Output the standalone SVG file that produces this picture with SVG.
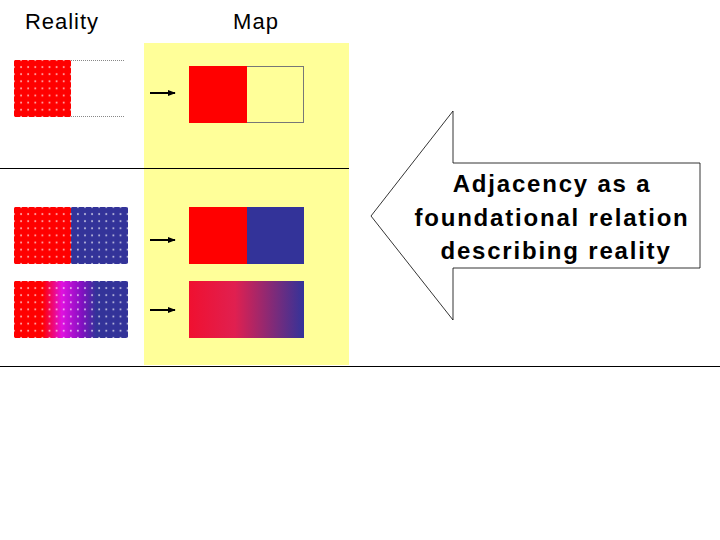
<svg xmlns="http://www.w3.org/2000/svg" width="720" height="540" viewBox="0 0 720 540">
<style>
.t{font-family:"Liberation Sans",Arial,sans-serif;fill:#000}
.ln{stroke:#000;stroke-width:1}
.arr{stroke:#000;stroke-width:2;marker-end:url(#ah)}
</style>
<defs>
<marker id="ah" viewBox="0 0 10 10" refX="9" refY="5" markerWidth="4" markerHeight="4" orient="auto"><path d="M0,1 L10,5 L0,9 z" fill="#000"/></marker>
<pattern id="dots" x="14" y="60" width="7.1" height="7.1" patternUnits="userSpaceOnUse"><rect width="7.1" height="7.1" fill="#000"/><circle cx="3.55" cy="3.55" r="4.3" fill="#fff"/></pattern>
<pattern id="dots2" x="14" y="207" width="7.1" height="7.1" patternUnits="userSpaceOnUse"><rect width="7.1" height="7.1" fill="#000"/><circle cx="3.55" cy="3.55" r="4.3" fill="#fff"/></pattern>
<pattern id="dots3" x="14" y="281" width="7.1" height="7.1" patternUnits="userSpaceOnUse"><rect width="7.1" height="7.1" fill="#000"/><circle cx="3.55" cy="3.55" r="4.3" fill="#fff"/></pattern>
<mask id="dm" maskUnits="userSpaceOnUse" x="0" y="0" width="720" height="540"><rect x="14" y="60" width="57" height="57" fill="url(#dots)"/><rect x="14" y="207" width="114" height="57" fill="url(#dots2)"/><rect x="14" y="281" width="114" height="57" fill="url(#dots3)"/></mask>
<linearGradient id="rg" x1="0" x2="1"><stop offset="0" stop-color="#f00"/><stop offset="0.25" stop-color="#f00"/><stop offset="0.42" stop-color="#e010e0"/><stop offset="0.6" stop-color="#8010c0"/><stop offset="0.72" stop-color="#333399"/><stop offset="1" stop-color="#333399"/></linearGradient>
<linearGradient id="mg" x1="0" x2="1"><stop offset="0" stop-color="#f01030"/><stop offset="0.4" stop-color="#e02050"/><stop offset="1" stop-color="#333399"/></linearGradient>
</defs>
<rect width="720" height="540" fill="#fff"/>
<rect x="144" y="43" width="205" height="322" fill="#ffff99"/>
<g id="headers">
<text class="t" x="62" y="29" font-size="22" letter-spacing="1" text-anchor="middle">Reality</text>
<text class="t" x="256" y="29" font-size="22" letter-spacing="1" text-anchor="middle">Map</text>
</g>
<g id="reality">
<g mask="url(#dm)">
<rect x="14" y="60" width="57" height="57" fill="#f00"/>
<rect x="14" y="207" width="57" height="57" fill="#f00"/>
<rect x="71" y="207" width="57" height="57" fill="#333399"/>
<rect x="14" y="281" width="114" height="57" fill="url(#rg)"/>
</g>
<line x1="71" y1="60.5" x2="124" y2="60.5" stroke="#888" stroke-dasharray="1,1"/>
<line x1="71" y1="116.5" x2="124" y2="116.5" stroke="#888" stroke-dasharray="1,1"/>
</g>
<g id="map">
<rect x="189.5" y="66.5" width="114" height="56" fill="#ffff99" stroke="#777"/>
<rect x="189" y="66" width="58" height="57" fill="#f00"/>
<rect x="189" y="207" width="58" height="57" fill="#f00"/>
<rect x="247" y="207" width="57" height="57" fill="#333399"/>
<rect x="189" y="281" width="115" height="57" fill="url(#mg)"/>
</g>
<g id="connectors">
<line class="arr" x1="150" y1="93" x2="175" y2="93"/>
<line class="arr" x1="150" y1="240" x2="175" y2="240"/>
<line class="arr" x1="150" y1="310" x2="175" y2="310"/>
<line class="ln" x1="0" y1="168.5" x2="349" y2="168.5"/>
<line class="ln" x1="0" y1="366.5" x2="720" y2="366.5"/>
</g>
<g id="callout">
<polygon points="371,216 453,111 453,163 700,163 700,268 453,268 453,320" fill="#fff" stroke="#000" stroke-width="0.8"/>
<text class="t" font-weight="bold" font-size="24" letter-spacing="1.8" text-anchor="middle"><tspan x="552" y="192">Adjacency as a</tspan><tspan x="552" y="226">foundational relation</tspan><tspan x="556" y="259">describing reality</tspan></text>
</g>
</svg>
